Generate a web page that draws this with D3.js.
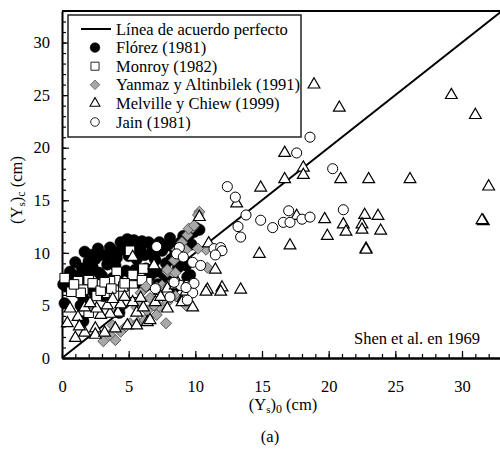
<!DOCTYPE html>
<html>
<head>
<meta charset="utf-8">
<script src="https://cdn.jsdelivr.net/npm/d3@7"></script>
<style>
  body { margin: 0; background: #fff; }
</style>
</head>
<body>
<div id="chart"></div>
<script>
'use strict';

// [x, y] = [(Ys)0, (Ys)c] in cm
var florez = [
  [0.2,5.2],[0.3,6.8],[0.4,7.6],[0.8,7.9],[1.2,7.6],[0.6,8.2],[1.0,9.1],[1.4,5.0],[1.6,3.5],[1.8,7.2],[0.9,6.6],[1.6,5.7],
  [1.7,10.1],[2.0,9.2],[2.5,9.4],[2.7,10.4],[2.2,6.5],[3.0,9.8],[2.8,8.1],[3.1,5.9],[2.5,6.0],[2.3,8.6],
  [3.5,9.8],[3.6,10.5],[4.1,9.5],[4.4,11.0],[4.5,10.3],[4.0,8.8],[3.8,7.6],[4.6,7.0],[5.0,9.7],[5.1,10.5],[5.4,11.2],[4.8,8.3],[4.3,4.3],[3.4,8.9],
  [5.6,9.4],[5.9,10.5],[6.2,9.8],[6.5,11.0],[6.3,8.5],[5.8,7.2],[6.8,10.3],[6.0,6.8],[6.6,7.8],[5.5,8.4],
  [7.0,9.3],[7.3,11.0],[7.5,10.2],[7.8,9.0],[7.6,8.0],[8.1,11.4],[8.3,10.6],[8.0,7.3],[8.5,9.9],[8.9,11.0],[8.7,8.6],[8.4,6.7],[7.2,7.0],
  [9.2,10.5],[9.4,7.7],[9.6,7.9],[9.9,12.0],[10.0,12.4],[10.3,12.2],[9.5,11.6],[9.0,9.5],[9.3,8.8],
  [0.1,7.0],[1.5,8.5],[2.2,9.8],[3.9,10.1],[4.9,11.3],[5.7,10.0],[6.0,11.1],[6.9,9.6],[7.7,10.6],[8.2,9.4],
  [8.8,10.2],[9.7,10.8],[9.1,11.6],[4.2,7.9],[5.2,8.0],[7.0,8.2],[3.0,7.8],[2.0,7.9]
];

var monroy = [
  [0.2,7.6],[1.2,7.3],[2.0,7.4],[1.6,6.5],[1.4,6.2],[2.3,7.1],[2.6,5.9],[3.4,6.2],[4.1,8.2],[4.0,7.4],
  [4.6,6.8],[5.1,10.2],[5.3,7.9],[5.3,6.9],[5.4,6.2],[4.7,7.1],[6.1,8.5],[6.4,7.2],[7.2,6.5],[0.7,6.3],
  [2.0,4.3],[6.0,7.4],[3.0,7.0],[3.6,7.3],[2.9,6.4],[0.9,7.0],[3.9,5.9],[3.2,7.2],[3.7,6.6]
];

var yanmaz = [
  [3.1,1.6],[4.0,1.7],[3.6,2.2],[4.4,2.5],[5.1,3.3],[5.7,3.4],[5.6,4.8],[6.4,4.5],[7.1,4.1],[7.8,3.3],
  [7.3,4.9],[7.9,5.3],[7.5,6.9],[7.1,6.7],[7.9,8.2],[8.4,9.3],[8.6,10.3],[9.0,11.0],[9.4,11.7],[9.8,12.4],
  [10.3,13.9],[10.2,13.6],[10.9,8.6],[10.8,10.3],[9.3,5.0],[8.5,5.9],[8.9,5.5],[6.6,5.7],[5.9,6.2],[5.7,5.3],
  [6.9,5.0],[8.0,6.9],[8.5,8.1],[7.9,8.4],[6.3,6.8],[9.3,10.3],[9.5,12.3],[9.9,12.6],[10.2,10.4],[4.8,3.0],
  [6.2,3.6],[3.8,3.1]
];

var melville = [
  [0.4,3.3],[0.6,4.7],[1.2,3.9],[1.0,1.9],[1.7,2.4],[2.5,2.8],[2.5,2.2],[3.2,2.4],[4.0,2.8],[4.9,3.1],
  [5.6,3.1],[6.4,3.4],[4.2,4.3],[3.6,4.2],[2.9,4.1],[2.6,4.7],[1.7,4.8],[2.1,5.2],[3.4,5.0],[4.4,5.1],
  [5.3,5.3],[5.6,4.3],[6.1,4.8],[7.0,5.3],[7.4,5.8],[7.9,6.6],[8.5,6.9],[9.1,5.7],[9.8,4.8],[9.3,6.0],
  [9.0,5.3],[4.7,5.8],[6.9,8.8],[5.3,9.6],[6.6,3.6],[7.9,4.7],[8.7,7.1],[9.3,6.3],[5.9,5.7],[3.8,5.6],[1.3,3.0],
  [10.3,13.4],[11.0,10.9],[11.5,8.4],[10.9,6.5],[12.0,6.7],[11.9,6.3],[13.4,6.5],[10.8,6.3],
  [13.1,14.7],[14.9,16.2],[14.8,9.9],[17.1,10.7],[17.6,13.5],[19.7,13.2],[19.9,11.6],[21.1,12.7],[21.3,12.0],
  [22.7,13.6],[22.5,12.7],[22.5,12.2],[23.7,13.5],[23.9,12.1],[22.8,10.4],[22.8,10.3],[31.6,13.0],[31.5,13.1],
  [32.0,16.3],[26.1,17.0],[23.0,17.0],[20.9,17.0],[16.7,17.0],[18.1,18.1],[18.1,17.4],[16.7,19.5],
  [18.9,26.0],[20.8,23.8],[29.2,25.0],[31.0,23.1]
];

var jain = [
  [7.1,10.6],[8.8,10.5],[8.6,9.9],[9.1,9.6],[9.8,9.1],[10.4,8.8],[8.9,6.9],[9.4,6.9],[9.6,6.8],[9.8,6.2],
  [8.4,7.2],[8.1,5.8],[9.4,5.5],[11.4,10.4],[11.9,10.5],[12.0,10.2],[11.5,9.8],[12.4,16.3],[13.0,15.3],
  [13.2,12.5],[13.4,11.5],[13.8,13.6],[14.9,13.1],[15.8,12.4],[16.6,12.9],[17.1,12.9],[17.0,14.0],[18.0,13.2],
  [18.6,13.4],[21.1,14.1],[17.6,19.5],[18.6,21.0],[20.3,18.0],[9.9,7.1],[9.3,6.7],[7.0,6.6]
];

var legendLabels = ['Línea de acuerdo perfecto', 'Flórez (1981)', 'Monroy (1982)',
  'Yanmaz y Altinbilek (1991)', 'Melville y Chiew (1999)', 'Jain (1981)'];
var axisMax = 33;
var majorTicks = [0, 5, 10, 15, 20, 25, 30];

var FONT = '"Liberation Serif", "Times New Roman", Tinos, serif';
var FS = '16.5px';
var width = 500, height = 451;
var plotLeft = 62, plotTop = 11, plotRight = 502, plotBottom = 358;

var svg = d3.select('#chart')
  .append('svg')
    .attr('width', width)
    .attr('height', height)
    .style('font-family', FONT);

var x = d3.scaleLinear().domain([0, axisMax]).range([plotLeft, plotRight]);
var y = d3.scaleLinear().domain([0, axisMax]).range([plotBottom, plotTop]);

// top border of the plot
svg.append('line')
  .attr('x1', plotLeft).attr('x2', plotRight)
  .attr('y1', plotTop).attr('y2', plotTop)
  .attr('stroke', '#000').attr('stroke-width', 2);

// minor ticks (inside)
var minor = d3.range(0, axisMax + 1);
svg.append('g')
  .attr('transform', 'translate(0,' + plotBottom + ')')
  .call(d3.axisBottom(x).tickValues(minor).tickSize(-4).tickFormat(''))
  .call(function(g){ g.select('.domain').remove(); });
svg.append('g')
  .attr('transform', 'translate(' + plotLeft + ',0)')
  .call(d3.axisLeft(y).tickValues(minor).tickSize(-4).tickFormat(''))
  .call(function(g){ g.select('.domain').remove(); });

// major ticks + labels
var xAxis = svg.append('g')
  .attr('transform', 'translate(0,' + plotBottom + ')')
  .call(d3.axisBottom(x).tickValues(majorTicks).tickSizeInner(-7).tickSizeOuter(0).tickPadding(22));
var yAxis = svg.append('g')
  .attr('transform', 'translate(' + plotLeft + ',0)')
  .call(d3.axisLeft(y).tickValues(majorTicks).tickSizeInner(-7).tickSizeOuter(0).tickPadding(12));

xAxis.select('.domain').attr('stroke-width', 2.5);
yAxis.select('.domain').attr('stroke-width', 2);
svg.selectAll('.tick line').attr('stroke-width', 1.2);
svg.selectAll('.tick text')
  .style('font-family', FONT)
  .style('font-size', FS)
  .attr('fill', '#000');

// line of perfect agreement
svg.append('line')
  .attr('x1', x(0)).attr('y1', y(0))
  .attr('x2', x(axisMax)).attr('y2', y(axisMax))
  .attr('stroke', '#000').attr('stroke-width', 2);

var series = [
  {data: florez, path: d3.symbol().type(d3.symbolCircle).size(105)(), fill: '#000', stroke: '#000', sw: 0.5, rot: 0},
  {data: monroy, path: d3.symbol().type(d3.symbolSquare).size(90)(), fill: '#fff', stroke: '#000', sw: 1, rot: 0},
  {data: yanmaz, path: d3.symbol().type(d3.symbolSquare).size(62)(), fill: '#a8a8a8', stroke: '#555', sw: 0.9, rot: 45},
  {data: melville, path: d3.symbol().type(d3.symbolTriangle).size(60)(), fill: '#fff', stroke: '#000', sw: 1.2, rot: 0},
  {data: jain, path: d3.symbol().type(d3.symbolCircle).size(80)(), fill: '#fff', stroke: '#000', sw: 1, rot: 0}
];

series.forEach(function(s){
  svg.append('g').selectAll('path')
    .data(s.data)
    .enter().append('path')
      .attr('d', s.path)
      .attr('transform', function(d){
        return 'translate(' + x(d[0]) + ',' + y(d[1]) + ') rotate(' + s.rot + ')';
      })
      .attr('fill', s.fill)
      .attr('stroke', s.stroke)
      .attr('stroke-width', s.sw);
});

// legend
var legend = svg.append('g');
legend.append('rect')
  .attr('x', 68).attr('y', 15)
  .attr('width', 233).attr('height', 122)
  .attr('fill', '#fff')
  .attr('stroke', '#222').attr('stroke-width', 1.5);

var rowY = function(i){ return 29 + i * 18.6; };

legend.append('line')
  .attr('x1', 81).attr('x2', 111)
  .attr('y1', rowY(0)).attr('y2', rowY(0))
  .attr('stroke', '#000').attr('stroke-width', 2);

series.forEach(function(s, i){
  legend.append('path')
    .attr('d', s.path)
    .attr('transform', 'translate(95,' + rowY(i + 1) + ') rotate(' + s.rot + ') scale(0.85)')
    .attr('fill', s.fill)
    .attr('stroke', s.stroke)
    .attr('stroke-width', s.sw);
});

legend.selectAll('text')
  .data(legendLabels)
  .enter().append('text')
    .attr('x', 116)
    .attr('y', function(d, i){ return rowY(i) + 5.5; })
    .style('font-family', FONT)
    .style('font-size', FS)
    .text(function(d){ return d; });

// annotation
svg.append('text')
  .attr('x', 480).attr('y', 344)
  .attr('text-anchor', 'end')
  .style('font-family', FONT)
  .style('font-size', FS)
  .text('Shen et al. en 1969');

// axis titles
var xt = svg.append('text')
  .attr('x', 283).attr('y', 410)
  .attr('text-anchor', 'middle')
  .style('font-family', FONT)
  .style('font-size', FS);
xt.append('tspan').text('(Y');
xt.append('tspan').attr('dy', 3).style('font-size', '11px').text('s');
xt.append('tspan').attr('dy', -3).text(')');
xt.append('tspan').attr('dy', 3).style('font-size', '12px').text('0');
xt.append('tspan').attr('dy', -3).text(' (cm)');

var yt = svg.append('text')
  .attr('transform', 'translate(22,190) rotate(-90)')
  .attr('text-anchor', 'middle')
  .style('font-family', FONT)
  .style('font-size', FS);
yt.append('tspan').text('(Y');
yt.append('tspan').attr('dy', 3).style('font-size', '11px').text('s');
yt.append('tspan').attr('dy', -3).text(')');
yt.append('tspan').attr('dy', 3).style('font-size', '12px').text('c');
yt.append('tspan').attr('dy', -3).text(' (cm)');

svg.append('text')
  .attr('x', 270).attr('y', 442)
  .attr('text-anchor', 'middle')
  .style('font-family', FONT)
  .style('font-size', FS)
  .text('(a)');
</script>
</body>
</html>
